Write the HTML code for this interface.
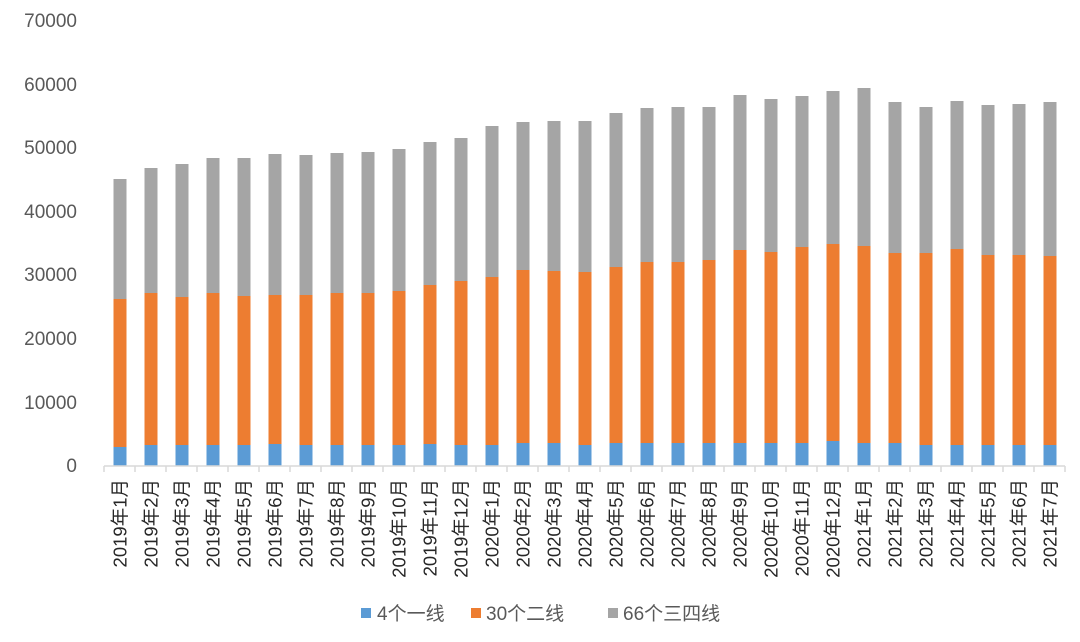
<!DOCTYPE html><html><head><meta charset="utf-8"><style>body{margin:0;background:#fff}svg{display:block}text{font-family:"Liberation Sans","Noto Sans CJK SC",sans-serif}</style></head><body>
<svg width="1080" height="642" xmlns="http://www.w3.org/2000/svg" id="s">
<g fill="#595959" font-size="19" text-anchor="end">
<text x="77" y="27">70000</text><text x="77" y="91">60000</text><text x="77" y="154">50000</text><text x="77" y="218">40000</text><text x="77" y="281">30000</text><text x="77" y="345">20000</text><text x="77" y="409">10000</text><text x="77" y="472">0</text>
</g>
<g id="bars"></g>
<line x1="104" y1="466" x2="1065" y2="466" stroke="#d9d9d9" stroke-width="1.5"/>
<g id="ticks" stroke="#d9d9d9" stroke-width="1.5"></g>
<g id="labels" fill="#262626" font-size="18.5"></g>
<g font-size="19" fill="#595959">
<rect x="361" y="608" width="10" height="10" fill="#5b9bd5"/><text x="377" y="620">4个一线</text>
<rect x="471" y="608" width="10" height="10" fill="#ed7d31"/><text x="486" y="620">30个二线</text>
<rect x="608" y="608" width="10" height="10" fill="#a5a5a5"/><text x="623" y="620">66个三四线</text>
</g>
</svg>
<script>
var T=[179,168,164,158,158,154,155,153,152,149,142,138,126,122,121,121,113,108,107,107,95,99,96,91,88,102,107,101,105,104,102];
var O=[299,293,297,293,296,295,295,293,293,291,285,281,277,270,271,272,267,262,262,260,250,252,247,244,246,253,253,249,255,255,256];
var B=[447,445,445,445,445,444,445,445,445,445,444,445,445,443,443,445,443,443,443,443,443,443,443,441,443,443,445,445,445,445,445];
var L=[];for(var y=2019;y<=2021;y++)for(var m=1;m<=12;m++){if(y==2021&&m>7)break;L.push(y+"年"+m+"月");}
var b="",t="",l="";
for(var i=0;i<31;i++){var c=104+31*i+16,x=c-6.5;
b+='<rect x="'+x+'" y="'+T[i]+'" width="13" height="'+(O[i]-T[i])+'" fill="#a5a5a5"/>';
b+='<rect x="'+x+'" y="'+O[i]+'" width="13" height="'+(B[i]-O[i])+'" fill="#ed7d31"/>';
b+='<rect x="'+x+'" y="'+B[i]+'" width="13" height="'+(466-B[i])+'" fill="#5b9bd5"/>';
t+='<line x1="'+(104+31*i)+'" y1="466" x2="'+(104+31*i)+'" y2="472"/>';
l+='<text transform="translate('+(c+6.5)+',479) rotate(-90)" text-anchor="end">'+L[i]+'</text>';}
t+='<line x1="1065" y1="466" x2="1065" y2="472"/>';
document.getElementById("bars").innerHTML=b;document.getElementById("ticks").innerHTML=t;document.getElementById("labels").innerHTML=l;
</script>
</body></html>
